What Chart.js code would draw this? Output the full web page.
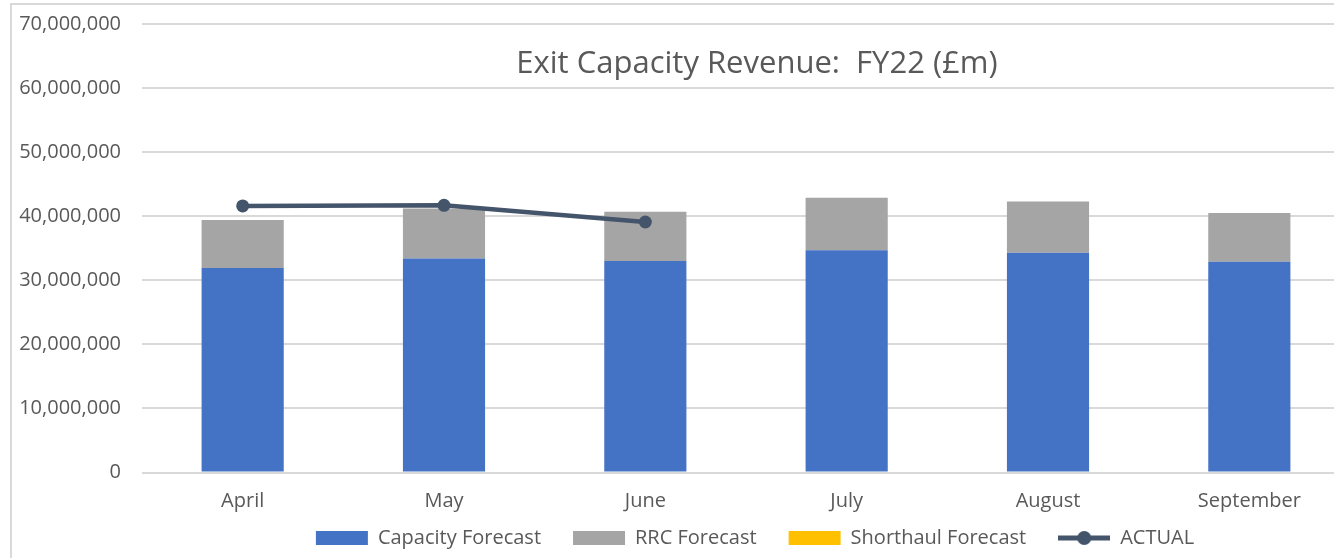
<!DOCTYPE html>
<html>
<head>
<meta charset="utf-8">
<script src="https://cdn.jsdelivr.net/npm/chart.js@4"></script>
<style>
  html, body { margin: 0; padding: 0; background: #fff; overflow: hidden; }
  #frame { position: absolute; left: 10px; top: 3px; width: 1600px; height: 700px;
           border-left: 2px solid #d9d9d9; border-top: 2px solid #d9d9d9; }
  #wrap { position: absolute; left: 0; top: 0; width: 1510px; height: 558px; }
  #title { position: absolute; left: 0; top: 41px; width: 1514px; text-align: center;
           font: 31px "Open Sans", sans-serif; color: #595959; line-height: 40px; }
</style>
</head>
<body>
<div id="frame"></div>
<div id="wrap"><canvas id="chart"></canvas></div>
<div id="title">Exit Capacity Revenue:&nbsp; FY22 (£m)</div>
<script>
const months = ["April", "May", "June", "July", "August", "September"];
const capacityForecast = [31900000, 33400000, 33000000, 34700000, 34300000, 32900000];
const rrcForecast = [7500000, 7800000, 7700000, 8200000, 8000000, 7600000];
const shorthaulForecast = [0, 0, 0, 0, 0, 0];
const actual = [41600000, 41700000, 39100000, null, null, null];

const textColor = "#595959";
const gridColor = "#d9d9d9";
const lineColor = "#44546a";

// little line-with-dot used as the ACTUAL legend marker
const legendLine = document.createElement("canvas");
legendLine.width = 52;
legendLine.height = 16;
const lc = legendLine.getContext("2d");
lc.strokeStyle = lineColor;
lc.lineWidth = 5;
lc.beginPath();
lc.moveTo(0, 8);
lc.lineTo(52, 8);
lc.stroke();
lc.fillStyle = lineColor;
lc.beginPath();
lc.arc(26, 8, 7, 0, Math.PI * 2);
lc.fill();

// the x labels sit in the legend's top padding, so let them draw past the axis box
const xLabelRoom = {
  id: "xLabelRoom",
  afterLayout(chart) {
    chart.scales.x.bottom += 30;
  },
};

Chart.defaults.font.family = '"Open Sans", sans-serif';
Chart.defaults.font.size = 20;
Chart.defaults.color = textColor;

new Chart(document.getElementById("chart"), {
  plugins: [xLabelRoom],
  data: {
    labels: months,
    datasets: [
      {
        type: "bar",
        label: "Capacity Forecast",
        data: capacityForecast,
        backgroundColor: "#4472c4",
        stack: "forecast",
        order: 1,
      },
      {
        type: "bar",
        label: "RRC Forecast",
        data: rrcForecast,
        backgroundColor: "#a5a5a5",
        stack: "forecast",
        order: 1,
      },
      {
        type: "bar",
        label: "Shorthaul Forecast",
        data: shorthaulForecast,
        backgroundColor: "#ffc000",
        stack: "forecast",
        order: 1,
      },
      {
        type: "line",
        label: "ACTUAL",
        data: actual,
        borderColor: lineColor,
        backgroundColor: lineColor,
        borderWidth: 4.5,
        pointRadius: 6.5,
        pointHoverRadius: 6.5,
        pointBackgroundColor: lineColor,
        pointBorderWidth: 0,
        stack: "actual",
        order: 0,
      },
    ],
  },
  options: {
    responsive: true,
    maintainAspectRatio: false,
    animation: false,
    datasets: {
      bar: { barPercentage: 0.408, categoryPercentage: 1, borderWidth: 0 },
    },
    layout: { padding: 0 },
    scales: {
      x: {
        stacked: true,
        grid: { display: false, drawTicks: false },
        border: { display: false },
        ticks: { padding: 17, color: textColor },
        afterFit: (scale) => { scale.height = 23.5; },
      },
      y: {
        stacked: true,
        min: 0,
        max: 70000000,
        border: { display: false },
        grid: { color: gridColor, lineWidth: 2, drawTicks: false },
        ticks: {
          stepSize: 10000000,
          padding: 21,
          color: textColor,
          callback: (v) => v.toLocaleString("en-US"),
        },
        afterFit: (scale) => {
          scale.width = 142;
          scale.paddingTop = 24;
          scale.paddingBottom = 0;
        },
      },
      // empty space right of the plot (the chart runs past the picture's edge)
      yRight: {
        position: "right",
        display: true,
        grid: { display: false, drawTicks: false },
        border: { display: false },
        ticks: { display: false },
        afterFit: (scale) => {
          scale.width = 160;
          scale.paddingTop = 0;
          scale.paddingBottom = 0;
        },
      },
    },
    plugins: {
      tooltip: { enabled: false },
      title: { display: false },
      legend: {
        position: "bottom",
        labels: {
          usePointStyle: true,
          pointStyleWidth: 52,
          boxHeight: 14,
          padding: 32,
          color: textColor,
          sort: (a, b) => a.datasetIndex - b.datasetIndex,
          generateLabels: (chart) =>
            Chart.defaults.plugins.legend.labels.generateLabels(chart).map((item) => {
              item.pointStyle = item.datasetIndex === 3 ? legendLine : "rect";
              item.lineWidth = 0;
              return item;
            }),
        },
      },
    },
  },
});
</script>
</body>
</html>
